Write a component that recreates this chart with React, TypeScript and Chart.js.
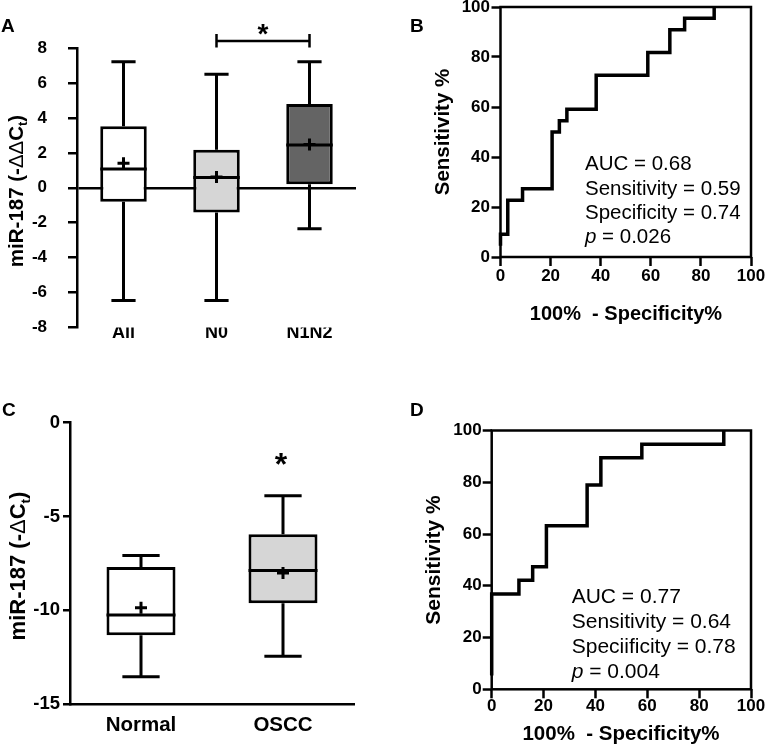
import { useEffect, useRef } from 'react';
import { Chart, registerables } from 'chart.js';

Chart.register(...registerables);

const W = 767;
const H = 749;
const FONT = '"Liberation Sans", Arial, Helvetica, sans-serif';

// ---------- Panel A: box plot ----------
const groupsA = ['All', 'N0', 'N1N2'];
const lowA = [-6.45, -6.45, -2.35];
const q1A = [-0.8, -1.42, 0.2];
const medianA = [1.08, 0.58, 2.45];
const q3A = [3.52, 2.18, 4.8];
const highA = [7.22, 6.5, 7.22];
const meanA = [1.4, 0.62, 2.48];
const fillA = ['#ffffff', '#d6d6d6', '#646464'];
const ticksA = [-8, -6, -4, -2, 0, 2, 4, 6, 8];

// ---------- Panel B: ROC ----------
const fprB = [0, 0, 2.9, 2.9, 8.8, 8.8, 20.6, 20.6, 23.5, 23.5, 26.5, 26.5, 38.2, 38.2, 58.8, 58.8, 67.6, 67.6, 73.5, 73.5, 85.3, 85.3];
const tprB = [4.5, 9.1, 9.1, 22.7, 22.7, 27.3, 27.3, 50, 50, 54.5, 54.5, 59.1, 59.1, 72.7, 72.7, 81.8, 81.8, 90.9, 90.9, 95.5, 95.5, 100];
const statsB = ['AUC = 0.68', 'Sensitivity = 0.59', 'Specificity = 0.74', ' = 0.026'];

// ---------- Panel C: box plot ----------
const groupsC = ['Normal', 'OSCC'];
const lowC = [-13.55, -12.45];
const q1C = [-11.33, -9.63];
const medianC = [-10.25, -7.88];
const q3C = [-7.7, -5.95];
const highC = [-7.08, -3.9];
const meanC = [-9.87, -8.02];
const fillC = ['#ffffff', '#d6d6d6'];
const ticksC = [-15, -10, -5, 0];

// ---------- Panel D: ROC ----------
const fprD = [0, 0, 10.5, 10.5, 15.8, 15.8, 21.1, 21.1, 36.8, 36.8, 42.1, 42.1, 57.9, 57.9, 89.5, 89.5];
const tprD = [5.3, 36.8, 36.8, 42.1, 42.1, 47.4, 47.4, 63.2, 63.2, 78.9, 78.9, 89.5, 89.5, 94.7, 94.7, 100];
const statsD = ['AUC = 0.77', 'Sensitivity = 0.64', 'Speciificity = 0.78', ' = 0.004'];

const rocTicks = [0, 20, 40, 60, 80, 100];

type Area = { l: number; t: number; r: number; b: number };
const areaA: Area = { l: 77, t: 48, r: 356, b: 327.5 };
const areaB: Area = { l: 500.5, t: 7, r: 751, b: 257 };
const areaC: Area = { l: 70, t: 422.7, r: 354, b: 704 };
const areaD: Area = { l: 491.7, t: 430.5, r: 751, b: 689.3 };

const fitY = (a: Area) => (s: any) => {
  s.width = a.l;
  s.paddingTop = 0; s.paddingBottom = 0; s.paddingLeft = 0; s.paddingRight = 0;
};
const fitX = (a: Area) => (s: any) => {
  s.height = H - a.b;
  s.paddingTop = 0; s.paddingBottom = 0; s.paddingLeft = 0; s.paddingRight = 0;
};
const layoutFor = (a: Area) => ({
  autoPadding: false,
  padding: { left: 0, top: a.t, right: W - a.r, bottom: 0 },
});
const setTicks = (vals: number[]) => (s: any) => {
  s.ticks = vals.map((v) => ({ value: v }));
};

type Seg = { t: string; w?: string; s?: number; dy?: number; it?: boolean };
function rich(ctx: CanvasRenderingContext2D, segs: Seg[], x: number, y: number, size: number, center: boolean, rotate: boolean) {
  ctx.save();
  ctx.translate(x, y);
  if (rotate) ctx.rotate(-Math.PI / 2);
  const f = (g: Seg) => `${g.it ? 'italic ' : ''}${g.w ?? 'bold'} ${size * (g.s ?? 1)}px ${FONT}`;
  let total = 0;
  segs.forEach((g) => { ctx.font = f(g); total += ctx.measureText(g.t).width; });
  let cx = center ? -total / 2 : 0;
  ctx.fillStyle = '#000';
  ctx.textAlign = 'left';
  ctx.textBaseline = 'alphabetic';
  segs.forEach((g) => {
    ctx.font = f(g);
    ctx.fillText(g.t, cx, (g.dy ?? 0) * size);
    cx += ctx.measureText(g.t).width;
  });
  ctx.restore();
}

function boxPlugin(low: number[], q1: number[], med: number[], q3: number[], high: number[], capRatio: number) {
  return {
    id: 'boxWhiskers',
    afterDatasetsDraw(chart: any) {
      const { ctx } = chart;
      const y = chart.scales.y;
      const meta = chart.getDatasetMeta(1);
      ctx.save();
      ctx.strokeStyle = '#000';
      ctx.lineWidth = 3;
      ctx.lineCap = 'butt';
      meta.data.forEach((bar: any, i: number) => {
        const cx = bar.x;
        const half = bar.width / 2;
        const cap = (bar.width * capRatio) / 2;
        const pHi = y.getPixelForValue(high[i]);
        const pQ3 = y.getPixelForValue(q3[i]);
        const pQ1 = y.getPixelForValue(q1[i]);
        const pLo = y.getPixelForValue(low[i]);
        const pMed = y.getPixelForValue(med[i]);
        ctx.beginPath();
        ctx.moveTo(cx, pQ3); ctx.lineTo(cx, pHi);
        ctx.moveTo(cx - cap, pHi); ctx.lineTo(cx + cap, pHi);
        ctx.moveTo(cx, pQ1); ctx.lineTo(cx, pLo);
        ctx.moveTo(cx - cap, pLo); ctx.lineTo(cx + cap, pLo);
        ctx.moveTo(cx - half, pMed); ctx.lineTo(cx + half, pMed);
        ctx.stroke();
      });
      ctx.restore();
    },
  };
}

const tickFont = (size: number) => ({ family: FONT, size, weight: 'bold' as const });

function makeBox(
  canvas: HTMLCanvasElement, area: Area, groups: string[], low: number[], q1: number[], med: number[], q3: number[],
  high: number[], mean: number[], fills: string[], ticks: number[], o: any, decor: any,
) {
  return new Chart(canvas, {
    type: 'bar',
    data: {
      labels: groups,
      datasets: [
        {
          type: 'line', data: mean, showLine: false, pointStyle: 'cross', pointRadius: 6, pointBorderWidth: 3,
          borderWidth: 3, borderColor: '#000', backgroundColor: '#000', order: 0,
        } as any,
        {
          type: 'bar', data: q1.map((v, i) => [v, q3[i]]), backgroundColor: fills, borderColor: '#000', borderWidth: 3,
          borderSkipped: false, barPercentage: o.barPct, categoryPercentage: 1, order: 1,
        } as any,
      ],
    },
    options: {
      responsive: false,
      animation: false,
      events: [],
      layout: layoutFor(area),
      plugins: { legend: { display: false }, tooltip: { enabled: false } },
      scales: {
        x: {
          afterFit: fitX(area),
          ticks: { font: tickFont(o.catSize), color: '#000', padding: o.catPad, maxRotation: 0, autoSkip: false },
          grid: { display: false, drawTicks: false },
          border: { display: o.xBorder, color: '#000', width: 2.5 },
        },
        y: {
          min: ticks[0], max: ticks[ticks.length - 1],
          afterFit: fitY(area),
          afterBuildTicks: setTicks(ticks),
          ticks: { font: tickFont(o.tickSize), color: '#000', padding: o.tickPad },
          grid: {
            display: true,
            drawOnChartArea: o.zeroLine,
            drawTicks: true,
            tickLength: o.tickLen,
            tickColor: '#000',
            tickWidth: 2.5,
            lineWidth: 2.5,
            color: (c: any) => (c.tick && c.tick.value === 0 ? '#000' : 'rgba(0,0,0,0)'),
          },
          border: { display: true, color: '#000', width: 2.5 },
        },
      },
    } as any,
    plugins: [boxPlugin(low, q1, med, q3, high, o.capRatio), decor],
  });
}

function makeRoc(canvas: HTMLCanvasElement, area: Area, fpr: number[], tpr: number[], o: any, decor: any) {
  return new Chart(canvas, {
    type: 'scatter',
    data: {
      datasets: [{
        data: fpr.map((x, i) => ({ x, y: tpr[i] })), showLine: true, borderColor: '#000', borderWidth: 3.5,
        pointRadius: 0, fill: false, tension: 0, clip: false, borderJoinStyle: 'miter', borderCapStyle: 'butt',
      } as any],
    },
    options: {
      responsive: false,
      animation: false,
      events: [],
      layout: layoutFor(area),
      plugins: { legend: { display: false }, tooltip: { enabled: false } },
      scales: {
        x: {
          type: 'linear', min: 0, max: 100,
          afterFit: fitX(area),
          afterBuildTicks: setTicks(rocTicks),
          ticks: { font: tickFont(17), color: '#000', padding: o.xPad, maxRotation: 0 },
          grid: { drawOnChartArea: false, drawTicks: true, tickLength: 9, tickColor: '#000', tickWidth: 2.5, color: '#000' },
          border: { display: false },
        },
        y: {
          type: 'linear', min: 0, max: 100,
          afterFit: fitY(area),
          afterBuildTicks: setTicks(rocTicks),
          ticks: { font: tickFont(17), color: '#000', padding: o.yPad },
          grid: { drawOnChartArea: false, drawTicks: true, tickLength: 9, tickColor: '#000', tickWidth: 2.5, color: '#000' },
          border: { display: false },
        },
      },
    } as any,
    plugins: [
      {
        id: 'frame',
        beforeDatasetsDraw(chart: any) {
          const { ctx, chartArea: c } = chart;
          ctx.save();
          ctx.strokeStyle = '#000';
          ctx.lineWidth = 2.5;
          ctx.strokeRect(c.left, c.top, c.right - c.left, c.bottom - c.top);
          ctx.restore();
        },
      },
      decor,
    ],
  });
}

function stats(ctx: CanvasRenderingContext2D, lines: string[], x: number, ys: number[], size: number) {
  rich(ctx, [{ t: lines[0], w: 'normal' }], x, ys[0], size, false, false);
  rich(ctx, [{ t: lines[1], w: 'normal' }], x, ys[1], size, false, false);
  rich(ctx, [{ t: lines[2], w: 'normal' }], x, ys[2], size, false, false);
  rich(ctx, [{ t: 'p', w: 'normal', it: true }, { t: lines[3], w: 'normal' }], x, ys[3], size, false, false);
}

function star(ctx: CanvasRenderingContext2D, x: number, yCenter: number, size: number) {
  ctx.save();
  ctx.font = `bold ${size}px ${FONT}`;
  ctx.fillStyle = '#000';
  ctx.textAlign = 'center';
  ctx.textBaseline = 'alphabetic';
  ctx.fillText('*', x, yCenter + size * 0.56);
  ctx.restore();
}

const decorA = {
  id: 'decorA',
  afterDraw(chart: any) {
    const { ctx } = chart;
    const x = chart.scales.x;
    const y = chart.scales.y;
    rich(ctx, [{ t: 'A' }], 1, 32, 19, false, false);
    rich(ctx, [{ t: 'miR-187 (-' }, { t: 'ΔΔ', w: 'normal' }, { t: 'C' }, { t: 't', s: 0.62, dy: 0.22 }, { t: ')' }], 22.5, 191, 20.5, true, true);
    const x1 = x.getPixelForValue(1);
    const x2 = x.getPixelForValue(2);
    const yb = y.getPixelForValue(8.4);
    ctx.save();
    ctx.strokeStyle = '#000';
    ctx.lineWidth = 2.5;
    ctx.beginPath();
    ctx.moveTo(x1, yb); ctx.lineTo(x2, yb);
    ctx.moveTo(x1, yb - 7); ctx.lineTo(x1, yb + 6.5);
    ctx.moveTo(x2, yb - 7); ctx.lineTo(x2, yb + 6.5);
    ctx.stroke();
    ctx.restore();
    star(ctx, (x1 + x2) / 2, y.getPixelForValue(9.2), 28);
  },
};

const decorB = {
  id: 'decorB',
  afterDraw(chart: any) {
    const { ctx } = chart;
    rich(ctx, [{ t: 'B' }], 410, 32, 19, false, false);
    rich(ctx, [{ t: 'Sensitivity %' }], 449, 132, 20.5, true, true);
    rich(ctx, [{ t: '100%  - Specificity%' }], 626, 320, 20, true, false);
    stats(ctx, statsB, 585, [170, 194.5, 218.5, 243], 20.5);
  },
};

const decorC = {
  id: 'decorC',
  afterDraw(chart: any) {
    const { ctx } = chart;
    const x = chart.scales.x;
    const y = chart.scales.y;
    rich(ctx, [{ t: 'C' }], 2, 416, 19, false, false);
    rich(ctx, [{ t: 'miR-187 (-' }, { t: 'Δ', w: 'normal' }, { t: 'C' }, { t: 't', s: 0.62, dy: 0.22 }, { t: ')' }], 25, 566, 22, true, true);
    star(ctx, x.getPixelForValue(1) - 2, y.getPixelForValue(-1.85), 32);
  },
};

const decorD = {
  id: 'decorD',
  afterDraw(chart: any) {
    const { ctx } = chart;
    rich(ctx, [{ t: 'D' }], 410, 416, 19, false, false);
    rich(ctx, [{ t: 'Sensitivity %' }], 439.5, 560, 21, true, true);
    rich(ctx, [{ t: '100%  - Specificity%' }], 621, 740, 20.5, true, false);
    stats(ctx, statsD, 571.7, [603, 628, 653, 678], 21);
  },
};

export default function App() {
  const rA = useRef<HTMLCanvasElement>(null);
  const rB = useRef<HTMLCanvasElement>(null);
  const rC = useRef<HTMLCanvasElement>(null);
  const rD = useRef<HTMLCanvasElement>(null);

  useEffect(() => {
    const charts = [
      makeBox(rA.current!, areaA, groupsA, lowA, q1A, medianA, q3A, highA, meanA, fillA, ticksA,
        { barPct: 0.5, capRatio: 0.52, catSize: 18, catPad: -5.6, tickSize: 17, tickPad: 21, tickLen: 9, zeroLine: true, xBorder: false }, decorA),
      makeRoc(rB.current!, areaB, fprB, tprB, { xPad: 0, yPad: 1.5 }, decorB),
      makeBox(rC.current!, areaC, groupsC, lowC, q1C, medianC, q3C, highC, meanC, fillC, ticksC,
        { barPct: 0.486, capRatio: 0.54, catSize: 20.5, catPad: 8.7, tickSize: 18.5, tickPad: 3, tickLen: 7, zeroLine: false, xBorder: true }, decorC),
      makeRoc(rD.current!, areaD, fprD, tprD, { xPad: -2, yPad: 1 }, decorD),
    ];
    return () => charts.forEach((c) => c.destroy());
  }, []);

  const cs: any = { position: 'absolute', left: 0, top: 0, width: W, height: H };
  return (
    <div style={{ position: 'absolute', left: 0, top: 0, width: W, height: H, background: '#fff', overflow: 'hidden' }}>
      <canvas ref={rA} width={W} height={H} style={cs} />
      <canvas ref={rB} width={W} height={H} style={cs} />
      <canvas ref={rC} width={W} height={H} style={cs} />
      <canvas ref={rD} width={W} height={H} style={cs} />
    </div>
  );
}
